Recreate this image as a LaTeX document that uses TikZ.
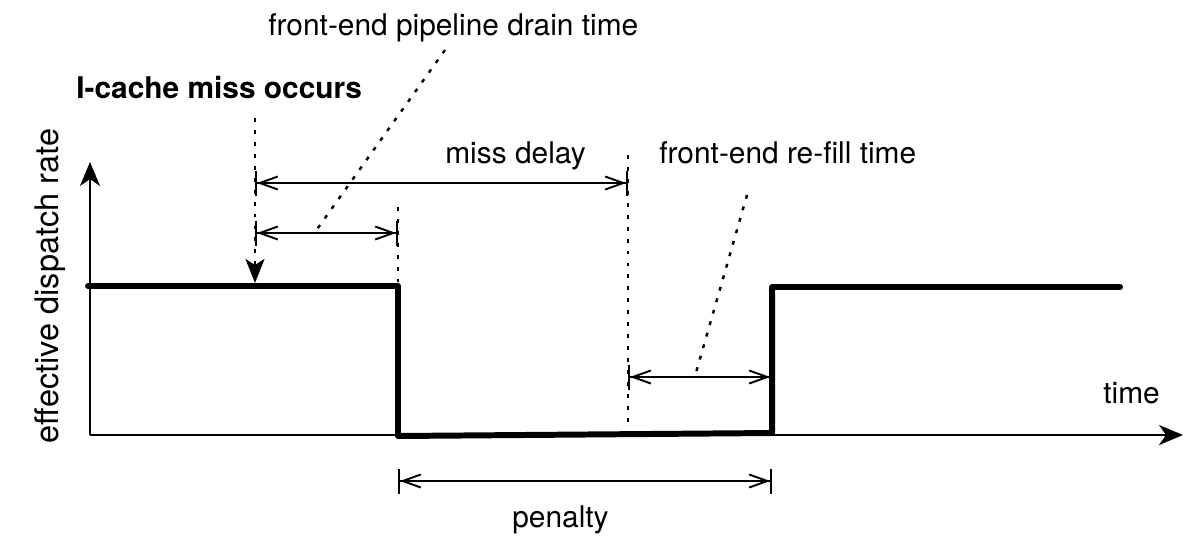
\documentclass[tikz,border=0pt]{standalone}
\usepackage{fontspec}
\setmainfont{TeX Gyre Heros}
\usepackage{tikz}
\usetikzlibrary{arrows.meta, positioning}

\begin{document}
\begin{tikzpicture}[
    x=0.02cm, y=-0.02cm,
    lbl/.style={
        font=\fontsize{17}{20}\selectfont,
        inner sep=0pt,
        anchor=base
    },
    axis/.style={
        line width=1.2pt,
        -{Stealth[length=0.48cm, width=0.4cm, inset=0.14cm]}
    },
    signal/.style={
        line width=3.4pt,
        line join=round,
        line cap=round
    },
    guide/.style={
        line width=1.4pt,
        dash pattern=on 2.2pt off 4.6pt
    },
    dimline/.style={
        line width=1.1pt,
        {Bar[width=0.5cm]Straight Barb[length=0.36cm, width=0.26cm]}-{Straight Barb[length=0.36cm, width=0.26cm]Bar[width=0.5cm]}
    }
]
\useasboundingbox (0,0) rectangle (1199,549);

% Axes
\coordinate (origin) at (90,435);
\coordinate (ytop) at (90,162);
\coordinate (xend) at (1183,435);
\draw[axis] (origin) -- (ytop);
\draw[axis] (origin) -- (xend);
\node[lbl, font=\fontsize{18.5}{22}\selectfont, rotate=90] (ylabel) at (58,286) {effective dispatch rate};
\node[lbl, anchor=base west] (tlabel) at (1103,403) {time};

% Dispatch rate over time
\coordinate (s0) at (88,286);
\coordinate (s1) at (398,286);
\coordinate (s2) at (398,436);
\coordinate (s3) at (772,433);
\coordinate (s4) at (772,287);
\coordinate (s5) at (1120,287);
\draw[signal] (s0) -- (s1) -- (s2) -- (s3) -- (s4) -- (s5);

% Miss event
\node[lbl, font=\fontsize{17}{20}\selectfont\bfseries, anchor=base west]
    (misslabel) at (76,98) {I-cache miss occurs};
\coordinate (miss top) at (255,118);
\coordinate (miss hit) at (255,283);
\draw[guide, -{Stealth[length=0.48cm, width=0.38cm, inset=0.12cm]}]
    (miss top) -- (miss hit);

% Vertical markers
\coordinate (drain top) at (398,207);
\coordinate (drain bot) at (398,282);
\coordinate (delay top) at (628,155);
\coordinate (delay bot) at (628,425);
\draw[guide] (drain top) -- (drain bot);
\draw[guide] (delay top) -- (delay bot);

% Dimension arrows
\coordinate (delay a) at (255,183);
\coordinate (delay b) at (628,183);
\coordinate (drain a) at (255,233);
\coordinate (drain b) at (398,233);
\coordinate (refill a) at (628,377);
\coordinate (refill b) at (772,377);
\coordinate (pen a) at (398,481);
\coordinate (pen b) at (772,481);
\foreach \a/\b in {delay a/delay b, drain a/drain b, refill a/refill b, pen a/pen b} {
    \draw[dimline] (\a) -- (\b);
}

% Labels
\node[lbl, anchor=base west] (delaylabel) at (445,163) {miss delay};
\node[lbl, anchor=base west] (drainlabel) at (268,35) {front-end pipeline drain time};
\node[lbl, anchor=base west] (refilllabel) at (659,163) {front-end re-fill time};
\node[lbl, anchor=base west] (penlabel) at (512,527) {penalty};

% Leaders from labels
\coordinate (drain lead) at (445,50);
\coordinate (drain mid) at (315,232);
\coordinate (refill lead) at (747,195);
\coordinate (refill mid) at (695,376);
\draw[guide] (drain lead) -- (drain mid);
\draw[guide] (refill lead) -- (refill mid);
\end{tikzpicture}
\end{document}
